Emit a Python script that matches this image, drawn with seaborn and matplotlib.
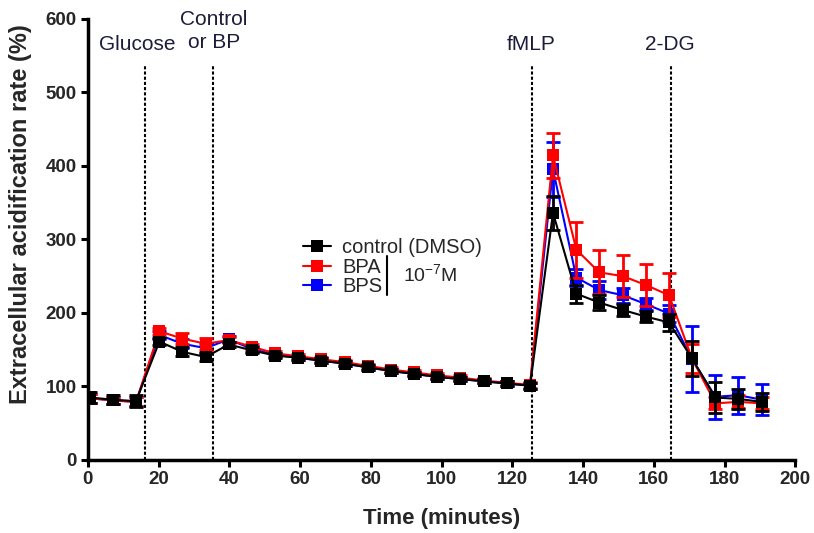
import seaborn as sns
import matplotlib.pyplot as plt
import pandas as pd

# tempi di misura (minuti)
tempi = [0.5, 7.0, 13.6, 20.2, 26.7, 33.3, 39.8, 46.4, 52.9, 59.5,
         66.0, 72.6, 79.1, 85.7, 92.2, 98.8, 105.3, 111.9, 118.4, 125.0,
         131.5, 138.1, 144.6, 151.2, 157.7, 164.3, 170.8, 177.4, 183.9, 190.5]

controllo = [85, 82, 80, 161, 147, 140, 157, 149, 142, 139,
             135, 131, 126, 121, 117, 113, 110, 107, 104, 101,
             336, 226, 214, 204, 195, 187, 138, 85, 83, 79]
controllo_err = [7, 6, 8, 5, 6, 6, 4, 4, 3, 3,
                 3, 3, 3, 3, 3, 3, 3, 3, 3, 4,
                 23, 12, 10, 8, 7, 12, 24, 21, 14, 12]

bpa = [84, 81, 79, 175, 165, 158, 163, 154, 145, 141,
       137, 133, 128, 123, 119, 115, 112, 108, 105, 102,
       414, 286, 255, 250, 238, 224, 138, 77, 79, 77]
bpa_err = [6, 5, 6, 5, 8, 8, 4, 4, 3, 3,
           3, 3, 3, 3, 3, 3, 3, 3, 3, 4,
           30, 38, 30, 29, 28, 30, 20, 8, 9, 8]

bps = [84, 81, 79, 170, 158, 152, 164, 151, 143, 139,
       135, 131, 126, 121, 117, 113, 110, 107, 104, 101,
       395, 248, 231, 224, 212, 199, 137, 86, 88, 82]
bps_err = [6, 5, 6, 5, 6, 6, 4, 4, 3, 3,
           3, 3, 3, 3, 3, 3, 3, 3, 3, 4,
           37, 12, 12, 10, 8, 12, 45, 30, 25, 21]

# iniezioni: posizione delle linee tratteggiate
iniezioni_x = [16, 35.5, 125.5, 165]

x_ticks = list(range(0, 201, 20))
y_ticks = list(range(0, 601, 100))

sns.set_style("ticks")
plt.rcParams['font.family'] = ['Liberation Sans', 'DejaVu Sans']

fig, ax = plt.subplots(figsize=(8.14, 5.33), dpi=100)
fig.subplots_adjust(left=0.108, right=0.977, bottom=0.137, top=0.965)

serie = [
    ("BPS", bps, bps_err, "#0000ff", 3),
    ("BPA", bpa, bpa_err, "#ff0000", 4),
    ("control (DMSO)", controllo, controllo_err, "black", 5),
]
for nome, vals, err, col, z in serie:
    df = pd.DataFrame({"t": tempi, "v": vals})
    sns.lineplot(data=df, x="t", y="v", color=col, marker="s", markersize=8,
                 markeredgewidth=0, linewidth=1.5, ax=ax, zorder=z, label=nome)
    ax.errorbar(tempi, vals, yerr=err, fmt="none", ecolor=col, elinewidth=2,
                capsize=5, capthick=2, zorder=z)

# linee tratteggiate delle iniezioni
for xx in iniezioni_x:
    ax.plot([xx, xx], [0, 535], color="black", linestyle=(0, (1.5, 1)),
            linewidth=1.5, zorder=2)

testo_col = "#1c1c3a"
ax.text(14, 565, "Glucose", ha="center", va="center", fontsize=15, color=testo_col)
ax.text(35.6, 583, "Control\nor BP", ha="center", va="center", fontsize=15,
        color=testo_col, linespacing=1.25)
ax.text(125.3, 565, "fMLP", ha="center", va="center", fontsize=15, color=testo_col)
ax.text(164.4, 565, "2-DG", ha="center", va="center", fontsize=15, color=testo_col)

# legenda nell'ordine del grafico originale
h, l = ax.get_legend_handles_labels()
ordine = ["control (DMSO)", "BPA", "BPS"]
hh = [h[l.index(o)] for o in ordine]
leg = ax.legend(hh, ordine, loc="upper left", bbox_to_anchor=(0.304, 0.503),
                frameon=False, fontsize=14.5, labelspacing=0.03,
                handlelength=1.4, handletextpad=0.55, borderpad=0, borderaxespad=0)
ax.plot([84.6, 84.6], [224, 277], color="black", linewidth=1.5, zorder=6)
ax.text(89, 252, r"10$^{\mathregular{-7}}$M", ha="left", va="center", fontsize=14)

ax.set_xlim(0, 200)
ax.set_ylim(0, 600)
ax.set_xticks(x_ticks)
ax.set_yticks(y_ticks)
ax.set_xlabel("Time (minutes)", fontsize=16, fontweight="bold", labelpad=14)
ax.set_ylabel("Extracellular acidification rate (%)", fontsize=17, fontweight="bold")
ax.yaxis.set_label_coords(-0.079, 0.558)
for lab in ax.get_xticklabels() + ax.get_yticklabels():
    lab.set_fontweight("bold")
    lab.set_fontsize(13.5)
ax.tick_params(width=2.2, length=5, color="black", pad=3)
sns.despine(ax=ax)
for s in ["left", "bottom"]:
    ax.spines[s].set_linewidth(2.5)
    ax.spines[s].set_color("black")

plt.savefig("out.png", dpi=100)
